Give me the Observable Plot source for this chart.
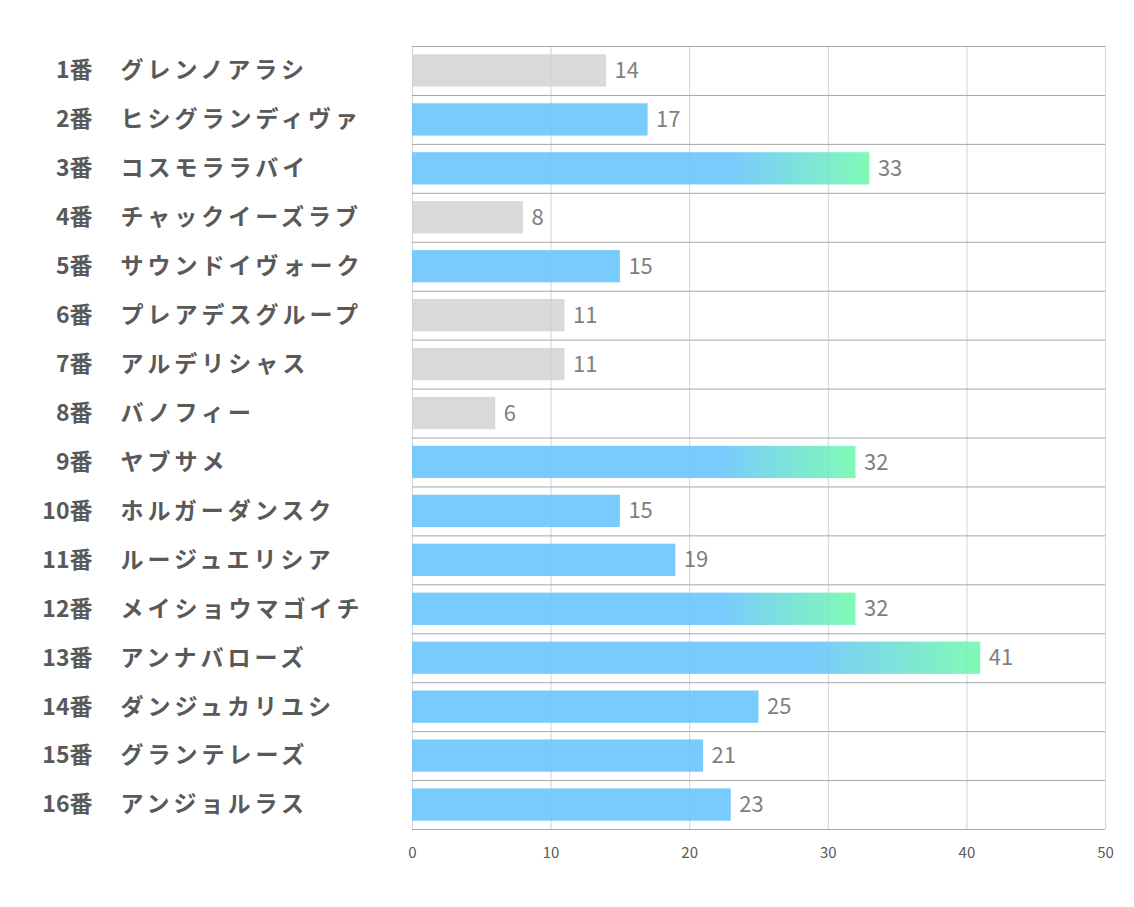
<!DOCTYPE html>
<html>
<head>
<meta charset="utf-8">
<script src="https://cdn.jsdelivr.net/npm/d3@7"></script>
<script src="https://cdn.jsdelivr.net/npm/@observablehq/plot@0.6"></script>
<style>
  html, body { margin: 0; padding: 0; background: #fff; }
  #chart { width: 1134px; height: 907px; }
</style>
</head>
<body>
<div id="chart"></div>
<script>
const numbers = ["1番","2番","3番","4番","5番","6番","7番","8番","9番","10番","11番","12番","13番","14番","15番","16番"];
const names = ["グレンノアラシ","ヒシグランディヴァ","コスモララバイ","チャックイーズラブ","サウンドイヴォーク","プレアデスグループ","アルデリシャス","バノフィー","ヤブサメ","ホルガーダンスク","ルージュエリシア","メイショウマゴイチ","アンナバローズ","ダンジュカリユシ","グランテレーズ","アンジョルラス"];
const values = [14,17,33,8,15,11,11,6,32,15,19,32,41,25,21,23];
const kinds = ["gray","blue","grad","gray","blue","gray","gray","gray","grad","blue","blue","grad","grad","blue","blue","blue"];
const xTicks = [0,10,20,30,40,50];

const data = values.map((v, i) => ({i, num: numbers[i], name: names[i], value: v, kind: kinds[i]}));
const rows = d3.range(0, numbers.length + 1);

const font = "'Noto Sans CJK JP', 'Noto Sans', sans-serif";
const bar = (kind, fill) => Plot.rectX(data.filter(d => d.kind === kind), {
  x1: 0, x2: "value", y1: d => d.i + 0.17, y2: d => d.i + 0.83, fill
});

const chart = Plot.plot({
  width: 1134,
  height: 907,
  marginLeft: 412,
  marginRight: 29,
  marginTop: 46,
  marginBottom: 78,
  style: {fontFamily: font, background: "#fff"},
  x: {domain: [0, 50], label: null},
  y: {domain: [0, numbers.length], reverse: true, axis: null},
  marks: [
    Plot.ruleX(xTicks, {y1: 0, y2: numbers.length, stroke: "#dcdcdc", strokeWidth: 1}),
    bar("gray", "#d9d9d9"),
    bar("blue", "#7acbfd"),
    bar("grad", "url(#barGrad)"),
    Plot.ruleX(xTicks, {y1: 0, y2: numbers.length, stroke: "#5a8fb0", strokeOpacity: 0.08, strokeWidth: 1}),
    Plot.ruleY(rows, {stroke: "#a6a6a6", strokeWidth: 1}),
    Plot.axisX({ticks: xTicks, tickSize: 0, tickPadding: 18, fontSize: 15, fill: "#595959", tickFormat: d => String(d), label: null}),
    Plot.text(data, {x: "value", y: d => d.i + 0.5, text: d => String(d.value), textAnchor: "start", dx: 8, fill: "#7f7f7f", fontSize: 22}),
    Plot.text(data, {frameAnchor: "left", y: d => d.i + 0.5, text: "num", textAnchor: "end", dx: -320, fill: "#595959", fontSize: 23, fontWeight: "bold"}),
    Plot.text(data, {frameAnchor: "left", y: d => d.i + 0.5, text: "name", textAnchor: "start", dx: -292, fill: "#595959", fontSize: 23, fontWeight: "bold"})
  ]
});

const svg = d3.select(chart);
const defs = svg.insert("defs", ":first-child");
const g = defs.append("linearGradient").attr("id", "barGrad")
  .attr("x1", "0").attr("x2", "1").attr("y1", "0").attr("y2", "0");
g.append("stop").attr("offset", "0").attr("stop-color", "#7acbfd");
g.append("stop").attr("offset", "0.70").attr("stop-color", "#7acbfd");
g.append("stop").attr("offset", "1").attr("stop-color", "#80fab6");
const nameSet = new Set(names);
svg.selectAll("text").filter(function() { return nameSet.has(this.textContent); })
  .style("letter-spacing", "4px");
const tickSet = new Set(xTicks.map(String));
svg.selectAll("text").filter(function() { return tickSet.has(this.textContent); })
  .style("font-size", "15px").style("fill", "#595959");
document.getElementById("chart").appendChild(chart);
</script>
</body>
</html>
